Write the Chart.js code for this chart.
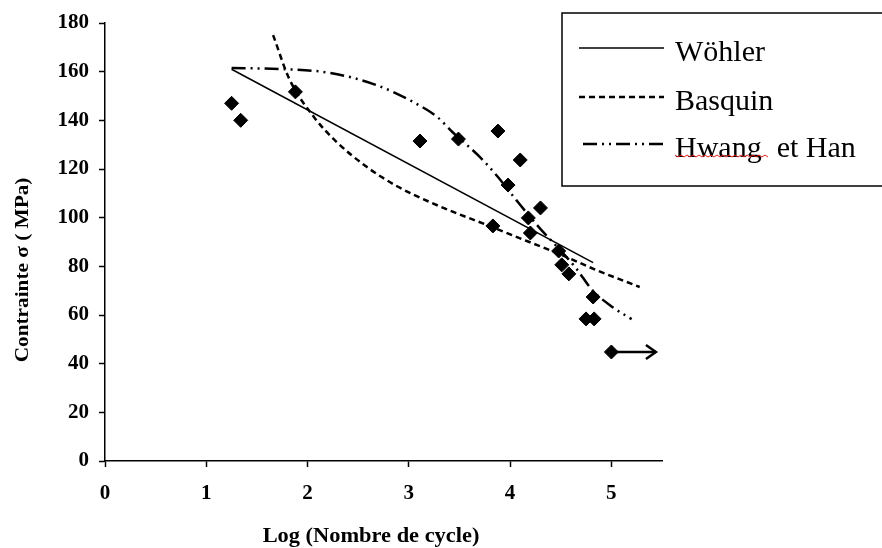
<!DOCTYPE html>
<html>
<head>
<meta charset="utf-8">
<script src="https://cdn.jsdelivr.net/npm/chart.js@4/dist/chart.umd.min.js"></script>
<style>
  html, body { margin: 0; padding: 0; background: #fff; }
  #wrap { width: 882px; height: 548px; }
</style>
</head>
<body>
<div id="wrap"><canvas id="myChart" width="882" height="548"></canvas></div>
<script>
// essais (points mesurés)
const essaisX = [1.25, 1.34, 1.88, 3.11, 3.49, 3.88, 4.10, 3.98, 3.83, 4.18, 4.30, 4.20, 4.48, 4.51, 4.58, 4.82, 4.75, 4.83, 5.00];
const essaisY = [147, 140, 151.7, 131.5, 132.3, 135.6, 123.7, 113.4, 96.6, 99.9, 104, 93.7, 86.3, 80.6, 76.9, 67.4, 58.4, 58.4, 44.8];

// modèle de Wöhler (droite)
const wohlerX = [1.25, 4.82];
const wohlerY = [161, 81.5];

// modèle de Basquin
const basquinX = [1.66, 1.82, 2.07, 2.29, 2.58, 2.88, 3.23, 3.83, 4.16, 4.49, 4.85, 5.28];
const basquinY = [175, 157, 141, 131, 121, 113, 106, 96, 90.5, 85, 78.5, 71.5];

// modèle de Hwang et Han
const hwangX = [1.25, 1.79, 2.22, 2.68, 3.04, 3.28, 3.43, 3.70, 3.88, 4.06, 4.29, 4.42, 4.65, 4.81, 5.01, 5.20];
const hwangY = [161.5, 161, 159.5, 154.5, 147.6, 141.4, 135.2, 125, 116.7, 107.3, 95.8, 90, 79.3, 70.3, 63.3, 58.3];

// flèche (éprouvette non rompue)
const flecheX = [5.00, 5.44];
const flecheY = [44.8, 44.8];

const xTicks = [0, 1, 2, 3, 4, 5];
const yTicks = [0, 20, 40, 60, 80, 100, 120, 140, 160, 180];

const legendLabels = ["Wöhler", "Basquin", "Hwang  et Han"];

function pts(xs, ys) {
	return xs.map(function(x, i) { return { x: x, y: ys[i] }; });
}

const DASH_BASQUIN = [6, 4];
const DASH_HWANG = [14, 5, 2, 5, 2, 5];
const serif = "'Liberation Serif', 'Times New Roman', serif";

// flèche + titres + légende
const extras = {
	id: "extras",
	afterDatasetsDraw(chart) {
		const c = chart.ctx;
		const meta = chart.getDatasetMeta(4);
		const p = meta.data[meta.data.length - 1];
		c.save();
		c.strokeStyle = "#000";
		c.lineWidth = 2.5;
		c.beginPath();
		c.moveTo(p.x - 10, p.y - 7);
		c.lineTo(p.x, p.y);
		c.lineTo(p.x - 10, p.y + 7);
		c.stroke();
		c.restore();
	},
	afterDraw(chart) {
		const c = chart.ctx;
		c.save();
		c.fillStyle = "#000";

		// titre axe y
		c.font = "bold 19px " + serif;
		c.textAlign = "center";
		c.textBaseline = "middle";
		c.translate(23, 270);
		c.rotate(-Math.PI / 2);
		c.scale(1.12, 1);
		c.fillText("Contrainte σ ( MPa)", 0, 0);
		c.setTransform(1, 0, 0, 1, 0, 0);

		// titre axe x
		c.font = "bold 20px " + serif;
		c.textBaseline = "alphabetic";
		c.translate(371, 542);
		c.scale(1.12, 1);
		c.fillText("Log (Nombre de cycle)", 0, 0);
		c.setTransform(1, 0, 0, 1, 0, 0);

		// légende
		c.strokeStyle = "#000";
		c.lineWidth = 1.5;
		c.strokeRect(562, 13, 330, 173);

		const rows = [48, 97, 144];
		const dashes = [[], DASH_BASQUIN, DASH_HWANG];
		const starts = [579, 579, 583];
		c.font = "30px " + serif;
		c.textAlign = "left";
		for (let i = 0; i < 3; i++) {
			c.setLineDash(dashes[i]);
			c.lineWidth = i == 0 ? 1.5 : 2.5;
			c.beginPath();
			c.moveTo(starts[i], rows[i]);
			c.lineTo(664, rows[i]);
			c.stroke();
			c.setLineDash([]);
			c.fillText(legendLabels[i], 675, rows[i] + 13);
		}

		// soulignement ondulé
		c.strokeStyle = "#e02020";
		c.lineWidth = 1;
		c.beginPath();
		for (let x = 675; x <= 768; x += 3) {
			const y = 155 + ((x - 675) / 3 % 2 == 0 ? 0 : 2);
			if (x == 675) c.moveTo(x, y); else c.lineTo(x, y);
		}
		c.stroke();
		c.restore();
	}
};

const ctx = document.getElementById("myChart");

const config = {
	type: "scatter",
	data: {
		datasets: [{
			label: "Essais",
			data: pts(essaisX, essaisY),
			pointStyle: "rectRot",
			pointRadius: 7,
			backgroundColor: "#000",
			borderColor: "#000",
			showLine: false
		}, {
			label: legendLabels[0],
			data: pts(wohlerX, wohlerY),
			showLine: true,
			borderColor: "#000",
			borderWidth: 1.5,
			pointRadius: 0
		}, {
			label: legendLabels[1],
			data: pts(basquinX, basquinY),
			showLine: true,
			borderColor: "#000",
			borderWidth: 2.5,
			borderDash: DASH_BASQUIN,
			cubicInterpolationMode: "monotone",
			pointRadius: 0
		}, {
			label: legendLabels[2],
			data: pts(hwangX, hwangY),
			showLine: true,
			borderColor: "#000",
			borderWidth: 2.5,
			borderDash: DASH_HWANG,
			cubicInterpolationMode: "monotone",
			pointRadius: 0
		}, {
			label: "flèche",
			data: pts(flecheX, flecheY),
			showLine: true,
			borderColor: "#000",
			borderWidth: 2.5,
			pointRadius: 0
		}]
	},
	options: {
		responsive: false,
		animation: false,
		events: [],
		layout: { padding: { left: 0, top: 23, right: 220, bottom: 0 } },
		plugins: {
			legend: { display: false },
			tooltip: { enabled: false }
		},
		scales: {
			x: {
				type: "linear",
				min: 0,
				max: 5.5,
				afterFit: function(scale) { scale.height = 87; },
				afterBuildTicks: function(scale) { scale.ticks = xTicks.map(function(v) { return { value: v }; }); },
				grid: { drawOnChartArea: false, color: "#000", tickLength: 6, tickWidth: 1.5 },
				border: { color: "#000", width: 1.5 },
				ticks: { color: "#000", padding: 14, font: { family: serif, size: 21, weight: "bold" } }
			},
			y: {
				min: 0,
				max: 180,
				afterFit: function(scale) { scale.width = 105; },
				afterBuildTicks: function(scale) { scale.ticks = yTicks.map(function(v) { return { value: v }; }); },
				grid: { drawOnChartArea: false, color: "#000", tickLength: 6, tickWidth: 1.5 },
				border: { color: "#000", width: 1.5 },
				ticks: { color: "#000", padding: 10, font: { family: serif, size: 21, weight: "bold" } }
			}
		}
	},
	plugins: [extras]
};

const myChart = new Chart(ctx, config);
</script>
</body>
</html>
